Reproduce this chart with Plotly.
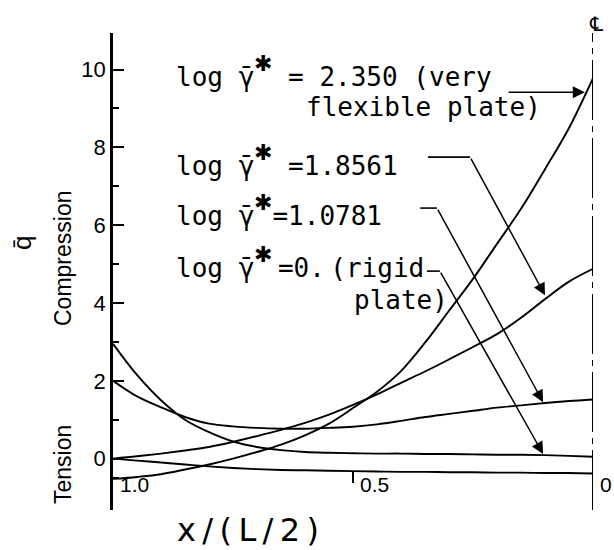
import plotly.graph_objects as go

# ---- data (x = x/(L/2), from 1.0 at the edge to 0 at the centre line) ----
x_pos = [1.0, 0.95, 0.9, 0.85, 0.8, 0.75, 0.7, 0.65, 0.6, 0.55, 0.5,
         0.45, 0.4, 0.35, 0.3, 0.25, 0.2, 0.15, 0.1, 0.05, 0.0]
q_rigid = [2.95, 2.15, 1.5, 1.0, 0.68, 0.44, 0.3, 0.22, 0.17, 0.15, 0.14,
           0.13, 0.13, 0.12, 0.12, 0.11, 0.1, 0.1, 0.09, 0.07, 0.05]
q_10781 = [2.0, 1.6, 1.32, 1.07, 0.9, 0.83, 0.79, 0.77, 0.77, 0.79, 0.82,
           0.88, 0.97, 1.07, 1.15, 1.23, 1.31, 1.37, 1.43, 1.48, 1.52]
q_18561 = [0.0, 0.06, 0.13, 0.21, 0.3, 0.43, 0.58, 0.74, 0.92, 1.13, 1.38,
           1.65, 1.95, 2.24, 2.55, 2.87, 3.2, 3.62, 4.1, 4.55, 4.88]
q_2350 = [-0.52, -0.47, -0.4, -0.28, -0.15, 0.0, 0.17, 0.36, 0.6, 0.9, 1.3,
          1.72, 2.25, 2.98, 3.8, 4.62, 5.52, 6.42, 7.44, 8.5, 9.78]
q_base = [0.0, -0.05, -0.1, -0.15, -0.2, -0.24, -0.27, -0.29, -0.3, -0.31, -0.32,
          -0.33, -0.34, -0.34, -0.35, -0.35, -0.36, -0.36, -0.37, -0.37, -0.38]

y_major = [0, 2, 4, 6, 8, 10]
y_minor = [-0.5, 1, 3, 5, 7, 9]
x_ticklabels = ["1.0", "0.5", "0"]
x_tickvals = [1.0, 0.5, 0.0]

GAMMA = ("<span style='font-family:DejaVu Sans'>γ̄</span>"
         "<span style='font-size:36px'><sup>"
         "<span style='font-family:DejaVu Sans;font-size:22px'>✱</span></sup></span>")
SMALLSP = "<span style='font-size:9px'> </span>"
labels = [
    "log " + GAMMA + " = 2.350 (very",
    "flexible plate)",
    "log " + GAMMA + " =1.8561",
    "log " + GAMMA + "=1.0781",
    "log " + GAMMA + SMALLSP + "=0." + SMALLSP + "(rigid",
    "plate)",
]
label_x = [0.873, 0.602, 0.873, 0.873, 0.873, 0.502]
label_y = [9.94, 9.04, 7.67, 6.39, 5.03, 4.07]

leader_start = [(0.179, 9.42), (0.344, 7.75), (0.36, 6.44), (0.346, 4.82)]
leader_knee = [(0.179, 9.42), (0.256, 7.75), (0.325, 6.44), (0.319, 4.82)]
leader_tip = [(0.017, 9.42), (0.1, 4.2), (0.104, 1.45), (0.104, 0.12)]

LETTER = "DejaVu Sans Mono"
SANS = "Liberation Sans, Arial"

fig = go.Figure()
for ys in [q_rigid, q_10781, q_18561, q_2350, q_base]:
    fig.add_trace(go.Scatter(x=x_pos, y=ys, mode="lines",
                             line=dict(color="black", width=1.9, shape="spline"),
                             showlegend=False, hoverinfo="skip"))

for s, k in zip(leader_start, leader_knee):
    fig.add_trace(go.Scatter(x=[s[0], k[0]], y=[s[1], k[1]], mode="lines",
                             line=dict(color="black", width=1.6),
                             showlegend=False, hoverinfo="skip"))

annotations = []
for k, t in zip(leader_knee, leader_tip):
    annotations.append(dict(x=t[0], y=t[1], ax=k[0], ay=k[1], xref="x", yref="y",
                            axref="x", ayref="y", text="", showarrow=True,
                            arrowhead=2, arrowsize=1.6, arrowwidth=1.5,
                            arrowcolor="black", standoff=0))
for t, lx, ly in zip(labels, label_x, label_y):
    annotations.append(dict(x=lx, y=ly, xref="x", yref="y", text=t, showarrow=False,
                            xanchor="left", yanchor="middle",
                            font=dict(family=LETTER, size=26, color="black")))
for lab, xv in zip(x_ticklabels, x_tickvals):
    annotations.append(dict(x=xv, y=-0.66, xref="x", yref="y", text=lab, showarrow=False,
                            xanchor="left", yanchor="middle", xshift=5,
                            font=dict(family=SANS, size=21, color="black")))

pix = [
    dict(x=248, y=530, text="x\u2009/\u2009(\u2009L\u2009/\u20092\u2009)",
         font=dict(family="DejaVu Sans", size=32, color="black")),
    dict(x=22, y=243, text="q̄", textangle=-90,
         font=dict(family=SANS, size=26, color="black")),
    dict(x=63, y=258, text="Compression", textangle=-90,
         font=dict(family=SANS, size=23, color="black")),
    dict(x=63, y=465, text="Tension", textangle=-90,
         font=dict(family=SANS, size=23, color="black")),
    dict(x=596, y=24, text="℄",
         font=dict(family="DejaVu Sans", size=20, color="black")),
]

L, R, T, B = 113, 21, 33, 40
W, H = 614, 550
pw, ph = W - L - R, H - T - B
for a in pix:
    a.update(xref="paper", yref="paper", showarrow=False,
             xanchor="center", yanchor="middle",
             x=(a["x"] - L) / pw, y=(H - B - a["y"]) / ph)
annotations += pix

fig.update_layout(
    width=W, height=H,
    margin=dict(l=L, r=R, t=T, b=B, pad=0),
    paper_bgcolor="white", plot_bgcolor="white",
    annotations=annotations,
    xaxis=dict(range=[1.0, 0.0], showgrid=False, zeroline=False, showline=False,
               tickmode="array", tickvals=[0.5], ticks="inside", ticklen=11,
               tickwidth=1.6, tickcolor="black", showticklabels=False,
               anchor="free", position=(H - B - 483) / ph),
    yaxis=dict(range=[-1.32, 10.94], showgrid=False, zeroline=False,
               showline=True, linecolor="black", linewidth=2.5,
               tickmode="array", tickvals=y_major, ticktext=[str(v) for v in y_major],
               ticks="inside", ticklen=11, tickwidth=1.8, tickcolor="black",
               tickfont=dict(family=SANS, size=22, color="black"),
               minor=dict(tickmode="array", tickvals=y_minor, ticks="inside",
                          ticklen=6, tickwidth=1.6, tickcolor="black")),
    shapes=[dict(type="line", xref="x", yref="paper", x0=0.0, x1=0.0, y0=0, y1=1.0,
                 line=dict(color="black", width=2, dash="60px,6px,6px,6px"))],
)

fig.write_html("out.html")
